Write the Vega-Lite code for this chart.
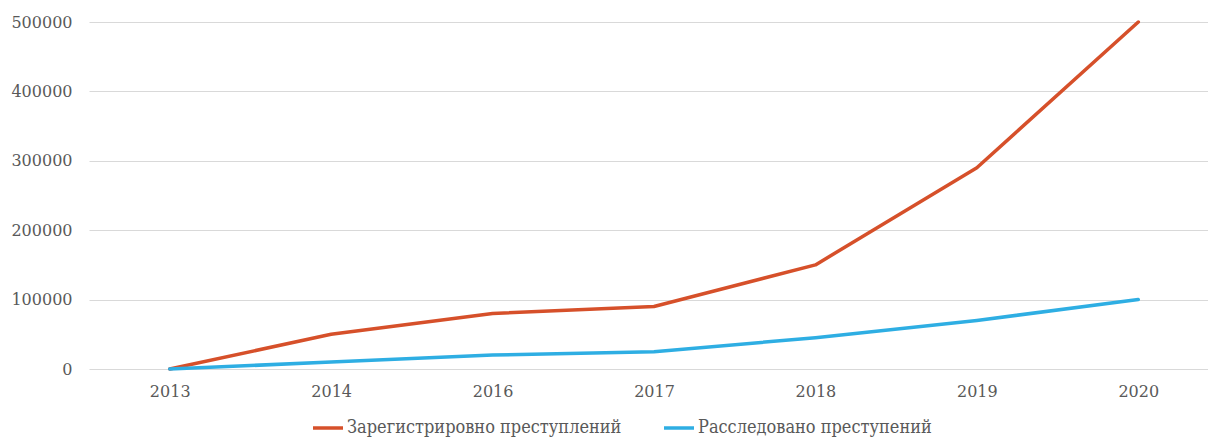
{
  "$schema": "https://vega.github.io/schema/vega-lite/v6.json",
  "autosize": "none",
  "padding": {"left": 89, "top": 22, "right": 0, "bottom": 68},
  "width": 1130,
  "height": 347,
  "background": "white",
  "config": {"view": {"stroke": null}},
  "data": {"values": [
    {"year": "2013", "series": "Зарегистрировно преступлений", "value": 0},
    {"year": "2014", "series": "Зарегистрировно преступлений", "value": 50000},
    {"year": "2016", "series": "Зарегистрировно преступлений", "value": 80000},
    {"year": "2017", "series": "Зарегистрировно преступлений", "value": 90000},
    {"year": "2018", "series": "Зарегистрировно преступлений", "value": 150000},
    {"year": "2019", "series": "Зарегистрировно преступлений", "value": 290000},
    {"year": "2020", "series": "Зарегистрировно преступлений", "value": 500000},
    {"year": "2013", "series": "Расследовано преступений", "value": 0},
    {"year": "2014", "series": "Расследовано преступений", "value": 10000},
    {"year": "2016", "series": "Расследовано преступений", "value": 20000},
    {"year": "2017", "series": "Расследовано преступений", "value": 25000},
    {"year": "2018", "series": "Расследовано преступений", "value": 45000},
    {"year": "2019", "series": "Расследовано преступений", "value": 70000},
    {"year": "2020", "series": "Расследовано преступений", "value": 100000}
  ]},
  "mark": {"type": "line", "strokeWidth": 3.5, "strokeCap": "round", "strokeJoin": "round"},
  "encoding": {
    "x": {"field": "year", "type": "ordinal", "title": null,
      "scale": {"type": "point", "padding": 0.5},
      "axis": {"labelAngle": 0, "domain": false, "ticks": false, "grid": false,
        "labelFont": "DejaVu Serif", "labelFontSize": 16, "labelColor": "#595959", "labelPadding": 14}},
    "y": {"field": "value", "type": "quantitative", "title": null,
      "scale": {"domain": [0, 500000], "nice": false},
      "axis": {"values": [0, 100000, 200000, 300000, 400000, 500000], "format": "d",
        "domain": false, "ticks": false, "gridColor": "#d9d9d9", "gridWidth": 1,
        "labelFont": "DejaVu Serif", "labelFontSize": 16, "labelColor": "#595959", "labelPadding": 17}},
    "color": {"field": "series", "type": "nominal", "title": null,
      "scale": {"domain": ["Зарегистрировно преступлений", "Расследовано преступений"], "range": ["#d6502a", "#2eaee3"]},
      "legend": {"orient": "none", "legendX": 222, "legendY": 389, "direction": "horizontal", "symbolType": "stroke", "symbolStrokeWidth": 3.5,
        "symbolSize": 900, "labelFont": "DejaVu Serif Condensed", "labelFontSize": 18, "labelColor": "#595959",
        "columnPadding": 35, "labelOffset": 2, "labelLimit": 400}}
  }
}
